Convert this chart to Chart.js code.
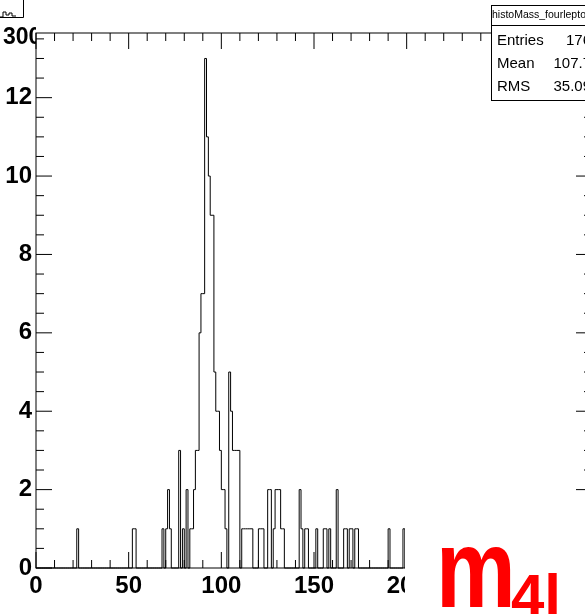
<!DOCTYPE html>
<html>
<head>
<meta charset="utf-8">
<script src="https://cdn.jsdelivr.net/npm/chart.js@4.4.1/dist/chart.umd.min.js"></script>
<style>
  html, body { margin: 0; padding: 0; background: #fff; overflow: hidden; }
  canvas { display: block; }
</style>
</head>
<body>
<canvas id="c" width="600" height="614"></canvas>
<script>
// histogram: low edge of each filled 1 GeV bin and its content
const filledBins = [22, 52, 53, 68, 70, 71, 72, 77, 79, 81, 83, 84, 85, 86, 87, 88, 89, 90,
  91, 92, 93, 94, 95, 96, 97, 98, 99, 100, 101, 102, 104, 105, 106, 107, 108, 109,
  111, 112, 113, 114, 115, 116, 120, 121, 122, 125, 126, 128, 129, 130, 131, 132, 133,
  142, 143, 145, 146, 151, 155, 156, 158, 162, 166, 167, 169, 170, 172, 173, 190, 198];
const binContents = [1, 1, 1, 1, 1, 2, 1, 3, 1, 2, 1, 1, 2, 3, 3, 6, 7, 7,
  13, 11, 10, 9, 9, 5, 4, 4, 3, 2, 2, 1, 5, 4, 3, 3, 3, 3,
  1, 1, 1, 1, 1, 1, 1, 1, 1, 2, 2, 1, 2, 2, 2, 1, 1,
  2, 1, 1, 1, 1, 1, 1, 1, 2, 1, 1, 1, 1, 1, 1, 1, 1];
const nBins = 200;

const xTickLabels = [0, 50, 100, 150, 200];
const yTickLabels = [0, 2, 4, 6, 8, 10, 12];

const histName = "histoMass_fourleptons";
const statNames = ["Entries", "Mean", "RMS"];
const statValues = ["176", "107.7", "35.09"];

const FONT = "'Liberation Sans', Arial, Helvetica, sans-serif";

// build step points from bin edges
const counts = new Array(nBins).fill(0);
filledBins.forEach((b, i) => { counts[b] = binContents[i]; });
const points = counts.map((c, i) => ({ x: i, y: c }));
points.push({ x: nBins, y: 0 });

function seg(ctx, x1, y1, x2, y2) {
  ctx.beginPath();
  ctx.moveTo(x1, y1);
  ctx.lineTo(x2, y2);
  ctx.stroke();
}

// ROOT style frame, ticks, stats box and label
const rootFrame = {
  id: "rootFrame",
  afterDraw(chart) {
    const { ctx, chartArea: a, scales: { x, y } } = chart;
    ctx.save();
    ctx.strokeStyle = "#000";
    ctx.lineWidth = 1;

    // frame
    ctx.strokeRect(a.left, a.top, a.right - a.left, a.bottom - a.top);

    // x ticks, inward, top and bottom
    for (let v = 0; v <= x.max; v += 10) {
      const px = x.getPixelForValue(v);
      const len = v % 50 === 0 ? 16 : 8;
      seg(ctx, px, a.bottom, px, a.bottom - len);
      seg(ctx, px, a.top, px, a.top + len);
    }
    // y ticks, left and right
    for (let i = 0; i * 0.5 <= y.max; i++) {
      const py = y.getPixelForValue(i * 0.5);
      const len = i % 4 === 0 ? 16 : 8;
      seg(ctx, a.left, py, a.left + len, py);
      seg(ctx, a.right, py, a.right - len, py);
    }

    // overlapping pad in the lower right corner
    ctx.fillStyle = "#fff";
    ctx.fillRect(405, 496, 200, 120);

    // m_4l label
    ctx.fillStyle = "#ff0000";
    ctx.textBaseline = "alphabetic";
    ctx.textAlign = "left";
    ctx.save();
    ctx.translate(436, 607);
    ctx.scale(0.8, 1);
    ctx.font = "bold 112px " + FONT;
    ctx.fillText("m", 0, 0);
    ctx.restore();
    ctx.font = "bold 60px " + FONT;
    ctx.fillText("4l", 511, 616);

    // stats box
    ctx.fillStyle = "#fff";
    ctx.fillRect(491, 5, 120, 96);
    ctx.strokeRect(491.5, 5.5, 120, 95);
    seg(ctx, 491, 25.5, 600, 25.5);
    ctx.fillStyle = "#000";
    ctx.textBaseline = "middle";
    ctx.font = "10.5px " + FONT;
    ctx.fillText(histName, 492, 15);
    ctx.font = "15px " + FONT;
    const rowY = [41, 64, 87];
    statNames.forEach((n, i) => {
      ctx.textAlign = "left";
      ctx.fillText(n, 497, rowY[i]);
      ctx.textAlign = "right";
      ctx.fillText(statValues[i], 591, rowY[i]);
    });

    // pieces of the neighbouring pad, top left
    ctx.beginPath();
    ctx.moveTo(0, 17.5); ctx.lineTo(23.5, 17.5); ctx.lineTo(23.5, 0);
    ctx.stroke();
    ctx.beginPath();
    ctx.moveTo(0, 17); ctx.lineTo(3, 17); ctx.lineTo(3, 12); ctx.lineTo(6, 12);
    ctx.lineTo(6, 15); ctx.lineTo(9, 15); ctx.lineTo(9, 13); ctx.lineTo(12, 13);
    ctx.lineTo(12, 16); ctx.lineTo(16, 16);
    ctx.stroke();
    ctx.save();
    ctx.beginPath();
    ctx.rect(0, 0, a.left, 614);
    ctx.clip();
    ctx.textAlign = "left";
    ctx.font = "bold 23px " + FONT;
    ctx.fillText("300", 3, 38);
    ctx.restore();

    ctx.restore();
  }
};

new Chart(document.getElementById("c"), {
  type: "line",
  data: {
    datasets: [{
      data: points,
      stepped: true,
      borderColor: "#000",
      borderWidth: 1,
      pointRadius: 0,
      fill: false,
      clip: false,
    }],
  },
  options: {
    responsive: false,
    animation: false,
    devicePixelRatio: 1,
    layout: { padding: { top: 33, right: 8, left: 0, bottom: 0 } },
    plugins: { legend: { display: false }, tooltip: { enabled: false } },
    scales: {
      x: {
        type: "linear",
        min: 0,
        max: 300,
        afterFit: (s) => { s.height = 46; },
        afterBuildTicks: (s) => { s.ticks = xTickLabels.map((v) => ({ value: v })); },
        grid: { display: false, drawTicks: false },
        border: { display: false },
        ticks: {
          autoSkip: false,
          maxRotation: 0,
          padding: 4,
          color: "#000",
          font: { family: FONT, size: 24, weight: "bold" },
        },
      },
      y: {
        min: 0,
        max: 13.65,
        afterFit: (s) => { s.width = 36; },
        afterBuildTicks: (s) => { s.ticks = yTickLabels.map((v) => ({ value: v })); },
        grid: { display: false, drawTicks: false },
        border: { display: false },
        ticks: {
          padding: 4,
          color: "#000",
          font: { family: FONT, size: 24, weight: "bold" },
        },
      },
    },
  },
  plugins: [rootFrame],
});
</script>
</body>
</html>
